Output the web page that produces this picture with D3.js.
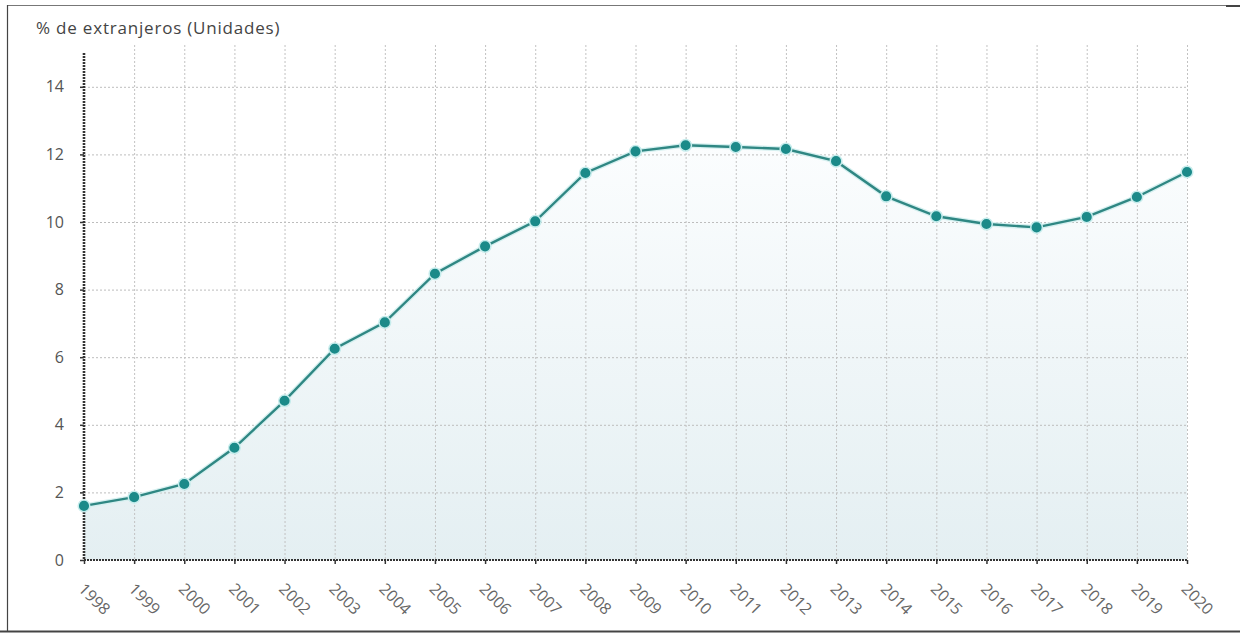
<!DOCTYPE html>
<html>
<head>
<meta charset="utf-8">
<script src="https://cdn.jsdelivr.net/npm/d3@7"></script>
<style>
  html, body { margin: 0; padding: 0; background: #fff; }
  svg { display: block; }
</style>
</head>
<body>
<svg id="chart" width="1240" height="633"></svg>
<script>
const years = [1998,1999,2000,2001,2002,2003,2004,2005,2006,2007,2008,2009,2010,2011,2012,2013,2014,2015,2016,2017,2018,2019,2020];
const values = [1.60,1.86,2.25,3.32,4.71,6.25,7.03,8.47,9.28,10.02,11.45,12.09,12.27,12.22,12.16,11.80,10.76,10.17,9.94,9.84,10.15,10.74,11.48];
const yTicks = [0,2,4,6,8,10,12,14];
const title = "% de extranjeros (Unidades)";

const svg = d3.select("#chart");
const m = {left: 84, right: 1187, top: 53, bottom: 560};
const font = "'Open Sans', sans-serif";

const x = d3.scalePoint().domain(years).range([m.left, m.right]);
const y = d3.scaleLinear().domain([0, 15]).range([m.bottom, m.top]);

// frame
svg.append("line").attr("x1", 7).attr("x2", 1226).attr("y1", 5.5).attr("y2", 5.5)
  .attr("stroke", "#777").attr("stroke-width", 1.2);
svg.append("line").attr("x1", 1226).attr("x2", 1240).attr("y1", 6).attr("y2", 6)
  .attr("stroke", "#444").attr("stroke-width", 2);
svg.append("line").attr("x1", 7.5).attr("x2", 7.5).attr("y1", 5).attr("y2", 632)
  .attr("stroke", "#444").attr("stroke-width", 1.2);
svg.append("line").attr("x1", 0).attr("x2", 1240).attr("y1", 631.5).attr("y2", 631.5)
  .attr("stroke", "#444").attr("stroke-width", 2.2);

// title
svg.append("text").attr("x", 36).attr("y", 34)
  .attr("font-family", font).attr("font-size", 17).attr("letter-spacing", 0.8)
  .attr("fill", "#444").text(title);

// gradient
const defs = svg.append("defs");
const grad = defs.append("linearGradient").attr("id", "fillGrad")
  .attr("x1", 0).attr("x2", 0).attr("y1", 0).attr("y2", 1);
grad.append("stop").attr("offset", "0%").attr("stop-color", "#fbfdfe");
grad.append("stop").attr("offset", "100%").attr("stop-color", "#e4eff2");

// area
const area = d3.area().x((d, i) => x(years[i])).y0(y(0)).y1(d => y(d));
svg.append("path").datum(values).attr("d", area).attr("fill", "url(#fillGrad)");

// grid
const grid = svg.append("g");
grid.selectAll("line.h").data(yTicks.filter(t => t > 0)).join("line")
  .attr("x1", m.left).attr("x2", m.right)
  .attr("y1", d => y(d) + 0.5).attr("y2", d => y(d) + 0.5)
  .attr("stroke", "#bdbdbd").attr("stroke-width", 1).attr("stroke-dasharray", "2,2");
grid.selectAll("line.v").data(years.slice(1)).join("line")
  .attr("x1", d => x(d) + 0.5).attr("x2", d => x(d) + 0.5)
  .attr("y1", m.top - 8).attr("y2", m.bottom)
  .attr("stroke", "#c2c2c2").attr("stroke-width", 1).attr("stroke-dasharray", "2,2");

// axes
const yAxis = d3.axisLeft(y).tickValues(yTicks).tickSize(4).tickPadding(16);
const gy = svg.append("g").attr("transform", `translate(${m.left},0)`).call(yAxis);
gy.select(".domain").remove();
gy.selectAll(".tick line").attr("stroke", "#333").attr("stroke-width", 1.5);
gy.selectAll(".tick text").attr("font-family", font)
  .attr("font-size", 16).attr("fill", "#555");
svg.append("line").attr("x1", m.left).attr("x2", m.left)
  .attr("y1", m.top).attr("y2", m.bottom)
  .attr("stroke", "#333").attr("stroke-width", 2.6).attr("stroke-dasharray", "2,1");

const xAxis = d3.axisBottom(x).tickSize(4).tickPadding(10);
const gx = svg.append("g").attr("transform", `translate(0,${m.bottom})`).call(xAxis);
gx.select(".domain").remove();
gx.selectAll(".tick line").attr("stroke", "#333").attr("stroke-width", 1.5);
gx.selectAll(".tick text").attr("font-family", font)
  .attr("font-size", 16).attr("fill", "#666")
  .attr("text-anchor", "start")
  .attr("transform", "translate(-3,26) rotate(45)")
  .attr("dy", "0.35em").attr("y", 0).attr("x", 0);
svg.append("line").attr("x1", m.left).attr("x2", m.right)
  .attr("y1", m.bottom).attr("y2", m.bottom)
  .attr("stroke", "#333").attr("stroke-width", 2.2).attr("stroke-dasharray", "2,1");

// line
const line = d3.line().x((d, i) => x(years[i])).y(d => y(d));
svg.append("path").datum(values).attr("d", line).attr("fill", "none")
  .attr("stroke", "#d6f0f0").attr("stroke-width", 5);
svg.append("path").datum(values).attr("d", line).attr("fill", "none")
  .attr("stroke", "#2f8783").attr("stroke-width", 2.4);

// points
svg.append("g").selectAll("circle").data(values).join("circle")
  .attr("cx", (d, i) => x(years[i])).attr("cy", d => y(d)).attr("r", 5.8)
  .attr("fill", "#1b8a89").attr("stroke", "#c6ecec").attr("stroke-width", 1.5);
</script>
</body>
</html>
